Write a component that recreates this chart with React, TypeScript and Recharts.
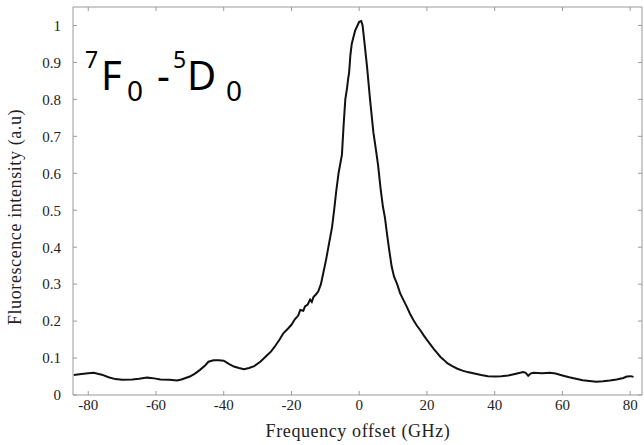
import { LineChart, Line, XAxis, YAxis } from 'recharts';

// frequency offset (GHz) and fluorescence intensity (a.u)
const freq = [
  -84.3, -82, -80, -78.4, -76, -74, -72, -70, -67, -65, -62.6, -60.5, -58.7, -56, -53.8, -52.5,
  -50, -48.5, -47, -45.5, -44.5, -43, -41.5, -40, -38.5, -37, -35.5, -34, -32.5, -31, -29.2,
  -27.5, -26, -25, -23.5, -22.4, -21, -20, -19, -18, -17.4, -16.5, -16, -15.2, -14.5, -14,
  -13.5, -12.8, -12.1, -11.3, -10.6, -9.8, -9.1, -8.5, -8, -7.4, -6.8, -6.1, -5.6, -5.1, -4.6,
  -4.1, -3.6, -3.2, -3, -2.6, -2.2, -1.8, -1.2, -0.5, 0, 0.6, 1, 1.6, 2.3, 3.2, 4.2, 5, 5.6,
  6.3, 7, 7.6, 8.2, 8.9, 9.6, 10.3, 11.2, 12.1, 13, 14, 15, 16, 17, 18, 19, 20, 21, 22, 23,
  24, 25, 26, 27.5, 29, 30.5, 32, 34, 36, 38, 40, 42, 44, 46, 48.4, 49.2, 49.9, 50.6, 51.4,
  54, 56.3, 58, 60, 62, 64, 66, 68, 70, 72, 74, 76, 78, 79, 80.2, 81,
];
const intensity = [
  0.054, 0.057, 0.059, 0.06, 0.055, 0.048, 0.043, 0.041, 0.042, 0.044, 0.047, 0.045, 0.042, 0.041, 0.039, 0.042,
  0.05, 0.058, 0.068, 0.08, 0.09, 0.094, 0.094, 0.093, 0.084, 0.077, 0.073, 0.07, 0.073, 0.078, 0.09,
  0.105, 0.118, 0.13, 0.15, 0.167, 0.18, 0.19, 0.205, 0.215, 0.23, 0.228, 0.24, 0.245, 0.258, 0.252,
  0.265, 0.272, 0.28, 0.3, 0.33, 0.365, 0.4, 0.43, 0.455, 0.5, 0.55, 0.6, 0.625, 0.65, 0.73,
  0.8, 0.83, 0.86, 0.87, 0.92, 0.95, 0.965, 0.986, 1.0, 1.01, 1.012, 1.0, 0.95, 0.89, 0.8, 0.71, 0.66, 0.62,
  0.56, 0.51, 0.48, 0.437, 0.39, 0.347, 0.32, 0.3, 0.275, 0.258, 0.24, 0.22, 0.203, 0.188, 0.176, 0.162, 0.149, 0.137, 0.125, 0.114,
  0.103, 0.095, 0.086, 0.078, 0.071, 0.066, 0.062, 0.058, 0.054, 0.051, 0.05, 0.051, 0.053, 0.057, 0.062, 0.06, 0.052, 0.058, 0.06,
  0.059, 0.06, 0.058, 0.053, 0.048, 0.044, 0.04, 0.038, 0.036, 0.037, 0.039, 0.042, 0.046, 0.05, 0.051, 0.049,
];
const xTicks = [-80, -60, -40, -20, 0, 20, 40, 60, 80];
const yTicks = [0, 0.1, 0.2, 0.3, 0.4, 0.5, 0.6, 0.7, 0.8, 0.9, 1];

const data = freq.map((f, i) => ({ f, v: intensity[i] }));

const serif = 'Liberation Serif, Times New Roman, serif';
const frame = '#9a9a9a';
const tickFont = { fontFamily: serif, fontSize: 15, fill: '#222' };
const xDomain = [-84.5, 83.5];
const yDomain = [0, 1.05];

export default function App() {
  return (
    <div style={{ position: 'absolute', left: 0, top: 0, width: 644, height: 445, background: '#fff' }}>
      <LineChart width={644} height={445} data={data} margin={{ top: 2, right: 0, bottom: 0, left: 13 }}>
        <XAxis
          xAxisId="b"
          dataKey="f"
          type="number"
          domain={xDomain}
          ticks={xTicks}
          allowDataOverflow
          height={50}
          tickSize={-4}
          tickMargin={8}
          stroke={frame}
          tick={tickFont}
        />
        <XAxis
          xAxisId="t"
          orientation="top"
          dataKey="f"
          type="number"
          domain={xDomain}
          ticks={xTicks}
          allowDataOverflow
          height={5}
          tickSize={-4}
          tickFormatter={() => ''}
          stroke={frame}
        />
        <YAxis
          yAxisId="l"
          type="number"
          domain={yDomain}
          ticks={yTicks}
          allowDataOverflow
          width={60}
          tickSize={-4}
          tickMargin={16}
          stroke={frame}
          tick={tickFont}
        />
        <YAxis
          yAxisId="r"
          orientation="right"
          type="number"
          domain={yDomain}
          ticks={yTicks}
          allowDataOverflow
          width={2}
          tickSize={-4}
          tickFormatter={() => ''}
          stroke={frame}
        />
        <Line
          xAxisId="b"
          yAxisId="l"
          type="linear"
          dataKey="v"
          stroke="#111"
          strokeWidth={2}
          dot={false}
          isAnimationActive={false}
        />
        <Line
          xAxisId="t"
          yAxisId="r"
          type="linear"
          dataKey="v"
          stroke="none"
          dot={false}
          legendType="none"
          isAnimationActive={false}
        />
      </LineChart>
      <svg
        width={644}
        height={445}
        style={{ position: 'absolute', left: 0, top: 0, pointerEvents: 'none' }}
      >
        <text x={358} y={437} textAnchor="middle" fontFamily={serif} fontSize={18} letterSpacing={0.6} fill="#222">
          Frequency offset (GHz)
        </text>
        <text
          transform="translate(21, 217) rotate(-90)"
          textAnchor="middle"
          fontFamily={serif}
          fontSize={18}
          letterSpacing={0.6}
          fill="#222"
        >
          Fluorescence intensity (a.u)
        </text>
        <g fontFamily="Noto Sans, Open Sans, sans-serif" fill="#000">
          <text x={85} y={68} fontSize={23}>7</text>
          <text x={101} y={90} fontSize={40}>F</text>
          <text x={127} y={101} fontSize={28}>0</text>
          <text x={157} y={90} fontSize={40}>-</text>
          <text x={173} y={68} fontSize={23}>5</text>
          <text x={187} y={90} fontSize={40}>D</text>
          <text x={226} y={101} fontSize={28}>0</text>
        </g>
      </svg>
    </div>
  );
}
